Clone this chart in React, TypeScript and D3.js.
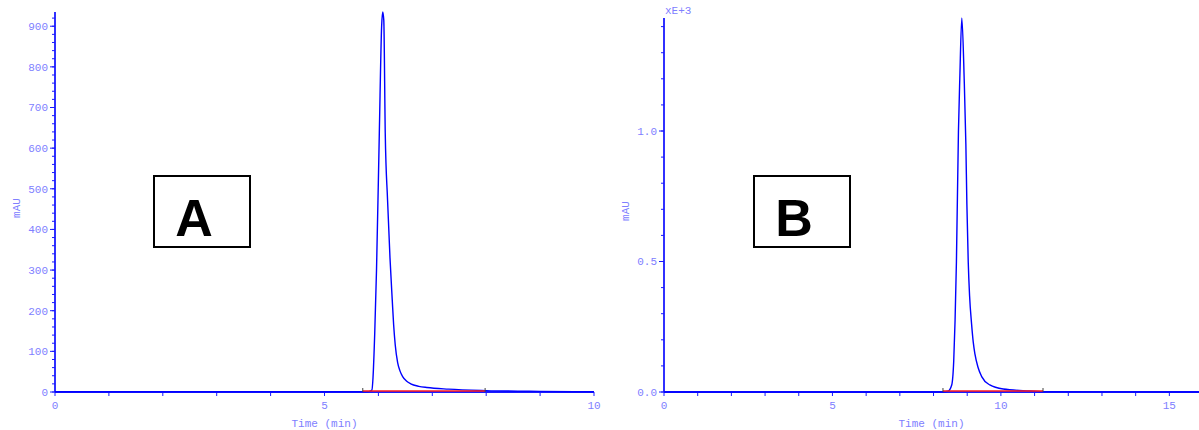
import React from "react";
import * as d3 from "d3";

// chromatogram A (time in min, signal in mAU)
const timesA = [0, 5.7, 5.82, 5.88, 5.9, 5.932, 5.965, 6.017, 6.06, 6.08, 6.1, 6.127, 6.17, 6.215, 6.257, 6.283, 6.313, 6.357, 6.4, 6.45, 6.52, 6.6, 6.75, 6.9, 7.3, 8.0, 9.0, 10];
const valuesA = [0.5, 0.5, 1, 5, 35, 145, 300, 637, 900, 935, 915, 637, 472, 330, 226, 165, 115, 72, 52, 38, 27, 20, 14, 11, 7, 3.5, 1.5, 0.5];

// chromatogram B (time in min, signal in mAU x 1000)
const timesB = [0, 8.28, 8.43, 8.54, 8.6, 8.64, 8.68, 8.74, 8.78, 8.84, 8.91, 8.96, 8.99, 9.03, 9.07, 9.13, 9.18, 9.23, 9.32, 9.43, 9.67, 10.07, 10.86, 11.3, 15.9];
const valuesB = [0, 0, 0.003, 0.027, 0.12, 0.276, 0.5, 1.0, 1.2, 1.433, 1.2, 0.95, 0.72, 0.5, 0.37, 0.26, 0.19, 0.145, 0.095, 0.059, 0.027, 0.0115, 0.004, 0.001, 0];

// integration baselines (start, end)
const baselineA = [5.71, 7.98];
const baselineB = [8.28, 11.25];

const xTicksA = [0, 5, 10];
const yTicksA = [0, 100, 200, 300, 400, 500, 600, 700, 800, 900];
const xTicksB = [0, 5, 10, 15];
const yTicksB = [0, 0.5, 1.0];

const labelColor = "#8080ff";
const axisColor = "#1a1aff";
const mono = "'Liberation Mono', 'DejaVu Sans Mono', monospace";

function Panel({ x0, x1, y0, y1, xDomain, yDomain, times, values, baseline, xTicks, yTicks, xMinor, yMinor, yFmt, letter, box, unitLabel }) {
  const x = d3.scaleLinear().domain(xDomain).range([x0, x1]);
  const y = d3.scaleLinear().domain(yDomain).range([y0, y1]);
  const pts = times.map((t, i) => [t, values[i]]);
  const line = d3
    .line()
    .x((d) => x(d[0]))
    .y((d) => y(d[1]))
    .curve(d3.curveMonotoneX);

  const xMinorTicks = d3.range(xDomain[0], xDomain[1] + 1e-9, xMinor);
  const yMinorTicks = d3.range(yDomain[0], yDomain[1] + 1e-9, yMinor);

  return (
    <g>
      {/* axes */}
      <line x1={x0} x2={x1} y1={y0} y2={y0} stroke={axisColor} strokeWidth={1.8} />
      <line x1={x0} x2={x0} y1={y0} y2={y1} stroke={axisColor} strokeWidth={1.8} />
      {xMinorTicks.map((t) => (
        <line key={"xm" + t} x1={x(t)} x2={x(t)} y1={y0} y2={y0 + 4} stroke={axisColor} strokeWidth={1} />
      ))}
      {yMinorTicks.map((v) => (
        <line key={"ym" + v} x1={x0 - 3} x2={x0} y1={y(v)} y2={y(v)} stroke={axisColor} strokeWidth={1} />
      ))}
      {yTicks.map((v) => (
        <g key={"y" + v}>
          <line x1={x0 - 5} x2={x0} y1={y(v)} y2={y(v)} stroke={axisColor} strokeWidth={1} />
          <text x={x0 - 7} y={y(v)} dy="0.35em" textAnchor="end" fontSize={11} fontFamily={mono} fill={labelColor}>
            {yFmt(v)}
          </text>
        </g>
      ))}
      {xTicks.map((t) => (
        <text key={"x" + t} x={x(t)} y={y0 + 17} textAnchor="middle" fontSize={11} fontFamily={mono} fill={labelColor}>
          {t}
        </text>
      ))}
      <text x={(x0 + x1) / 2} y={427} textAnchor="middle" fontSize={11} fontFamily={mono} fill={labelColor}>
        Time (min)
      </text>
      <text transform={`translate(${x0 - 35}, ${(y0 + y1) / 2 + 6}) rotate(-90)`} textAnchor="middle" fontSize={11} fontFamily={mono} fill={labelColor}>
        mAU
      </text>
      {unitLabel && (
        <text x={x0 + 1} y={14} fontSize={11} fontFamily={mono} fill={labelColor}>
          {unitLabel}
        </text>
      )}

      {/* trace */}
      <path d={line(pts)} fill="none" stroke="#0000ff" strokeWidth={1.4} />
      {/* integration baseline */}
      <line x1={x(baseline[0])} x2={x(baseline[1])} y1={y(0) - 1} y2={y(0) - 1} stroke="#ff1a1a" strokeWidth={1.5} />
      <line x1={x(baseline[0])} x2={x(baseline[0])} y1={y(0) - 4} y2={y(0)} stroke="#444" strokeWidth={1} />
      <line x1={x(baseline[1])} x2={x(baseline[1])} y1={y(0) - 4} y2={y(0)} stroke="#444" strokeWidth={1} />

      {/* panel label */}
      <rect x={box[0]} y={box[1]} width={96} height={71} fill="none" stroke="#000" strokeWidth={2} />
      <text x={box[0] + 40} y={box[1] + 60} textAnchor="middle" fontSize={52} fontWeight="bold" fontFamily="'Liberation Sans', Arial, sans-serif" fill="#000">
        {letter}
      </text>
    </g>
  );
}

export default function App() {
  return (
    <svg width={1199} height={430} style={{ position: "absolute", left: 0, top: 0, background: "#fff" }}>
      <Panel
        x0={55}
        x1={594}
        y0={392}
        y1={12}
        xDomain={[0, 10]}
        yDomain={[0, 935]}
        times={timesA}
        values={valuesA}
        baseline={baselineA}
        xTicks={xTicksA}
        yTicks={yTicksA}
        xMinor={1}
        yMinor={20}
        yFmt={(v) => String(v)}
        letter="A"
        box={[154, 176]}
        unitLabel={null}
      />
      <Panel
        x0={664}
        x1={1199}
        y0={392}
        y1={18}
        xDomain={[0, 15.88]}
        yDomain={[0, 1.433]}
        times={timesB}
        values={valuesB}
        baseline={baselineB}
        xTicks={xTicksB}
        yTicks={yTicksB}
        xMinor={1}
        yMinor={0.1}
        yFmt={d3.format(".1f")}
        letter="B"
        box={[754, 176]}
        unitLabel="xE+3"
      />
    </svg>
  );
}
